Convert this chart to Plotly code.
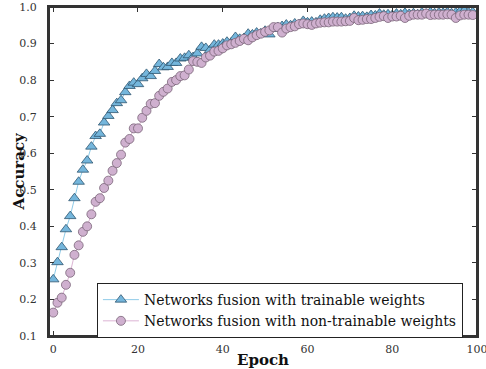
import plotly.graph_objects as go

epochs = list(range(100))

acc_trainable = [
    0.255, 0.302, 0.343, 0.392, 0.428, 0.477, 0.522, 0.555, 0.580, 0.618,
    0.647, 0.653, 0.684, 0.702, 0.718, 0.737, 0.745, 0.767, 0.784, 0.793,
    0.789, 0.805, 0.817, 0.811, 0.825, 0.844, 0.835, 0.836, 0.847, 0.847,
    0.859, 0.861, 0.868, 0.863, 0.873, 0.891, 0.888, 0.882, 0.897, 0.897,
    0.900, 0.905, 0.903, 0.918, 0.913, 0.915, 0.927, 0.925, 0.930, 0.928,
    0.935, 0.925, 0.940, 0.945, 0.948, 0.952, 0.950, 0.955, 0.953, 0.962,
    0.958, 0.960, 0.958, 0.965, 0.968, 0.970, 0.972, 0.971, 0.972, 0.968,
    0.970, 0.976, 0.974, 0.975, 0.973, 0.978, 0.977, 0.982, 0.979, 0.980,
    0.978, 0.982, 0.980, 0.984, 0.981, 0.983, 0.980, 0.985, 0.982, 0.986,
    0.983, 0.985, 0.984, 0.986, 0.983, 0.985, 0.988, 0.990, 0.985, 0.986,
]

acc_non_trainable = [
    0.164, 0.191, 0.205, 0.240, 0.273, 0.322, 0.348, 0.385, 0.400, 0.433,
    0.467, 0.477, 0.505, 0.525, 0.552, 0.573, 0.596, 0.629, 0.639, 0.668,
    0.668, 0.697, 0.716, 0.735, 0.737, 0.757, 0.768, 0.777, 0.795, 0.800,
    0.811, 0.813, 0.829, 0.852, 0.850, 0.847, 0.862, 0.867, 0.878, 0.880,
    0.887, 0.895, 0.898, 0.902, 0.907, 0.913, 0.909, 0.917, 0.923, 0.927,
    0.932, 0.936, 0.945, 0.945, 0.930, 0.941, 0.945, 0.947, 0.953, 0.955,
    0.953, 0.951, 0.955, 0.957, 0.958, 0.958, 0.960, 0.960, 0.960, 0.961,
    0.962, 0.970, 0.964, 0.965, 0.967, 0.967, 0.970, 0.973, 0.975, 0.970,
    0.974, 0.974, 0.976, 0.970, 0.976, 0.979, 0.979, 0.979, 0.982, 0.978,
    0.979, 0.979, 0.979, 0.980, 0.979, 0.970, 0.977, 0.979, 0.979, 0.978,
]

x_ticks = [0, 20, 40, 60, 80, 100]
y_ticks = [0.1, 0.2, 0.3, 0.4, 0.5, 0.6, 0.7, 0.8, 0.9, 1.0]

serif = "DejaVu Serif"

fig = go.Figure()
fig.add_trace(go.Scatter(
    x=epochs, y=acc_trainable, mode="lines+markers",
    name="Networks fusion with trainable weights",
    line=dict(color="#8fcbe8", width=1),
    marker=dict(symbol="triangle-up", size=10, color="#74b6dc",
                line=dict(color="#2f5570", width=0.8)),
))
fig.add_trace(go.Scatter(
    x=epochs, y=acc_non_trainable, mode="lines+markers",
    name="Networks fusion with non-trainable weights",
    line=dict(color="#dcb4d4", width=1),
    marker=dict(symbol="circle", size=9, color="#cfb0cf",
                line=dict(color="#7a6478", width=0.8)),
))

axis_common = dict(
    showline=True, linecolor="#333333", linewidth=2, mirror="ticks",
    ticks="inside", ticklen=5, tickcolor="#333333", tickwidth=1,
    showgrid=False, zeroline=False, ticklabeloverflow="allow",
    tickfont=dict(family=serif, size=11, color="#333333"),
)

fig.update_layout(
    width=486, height=369,
    margin=dict(l=49, r=9, t=7, b=33, autoexpand=False),
    paper_bgcolor="white", plot_bgcolor="white",
    font=dict(family=serif, color="#111111"),
    xaxis=dict(range=[-1, 100], tickvals=x_ticks,
               ticktext=[str(v) for v in x_ticks],
               ticklabelstandoff=2,
               **axis_common),
    yaxis=dict(range=[0.1, 1.0], tickvals=y_ticks,
               ticktext=[f"{v:.1f}" for v in y_ticks],
               ticklabelstandoff=8,
               **axis_common),
    legend=dict(x=0.112, y=0.161, xanchor="left", yanchor="top",
                bgcolor="white", bordercolor="#222222", borderwidth=1,
                font=dict(family=serif, size=14, color="#111111"),
                tracegroupgap=0, itemwidth=36),
    showlegend=True,
    shapes=[
        dict(type="rect", xref="paper", yref="paper", x0=0, x1=1, y0=0, y1=1,
             line=dict(color="#333333", width=2), fillcolor="rgba(0,0,0,0)",
             layer="above"),
    ],
    annotations=[
        dict(text="<b>Epoch</b>", xref="paper", yref="paper", x=0.5, y=0,
             xanchor="center", yanchor="middle", yshift=-24, showarrow=False,
             font=dict(family=serif, size=15, color="#111111")),
        dict(text="<b>Accuracy</b>", xref="paper", yref="paper", x=0, y=0.5,
             xanchor="center", yanchor="middle", xshift=-31, textangle=-90,
             showarrow=False,
             font=dict(family=serif, size=15, color="#111111")),
    ],
)

fig.write_html(
    "out.html",
    config={"displayModeBar": False},
    post_script=("document.documentElement.style.overflow='hidden';"
                 "document.body.style.margin='0px';"
                 "document.body.style.overflow='hidden';"),
)
